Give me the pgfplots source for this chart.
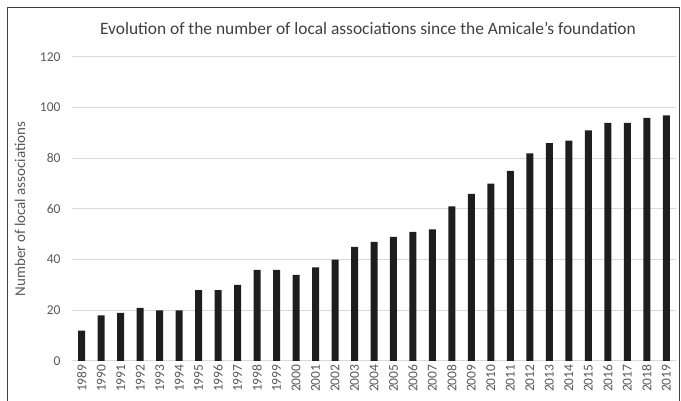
\documentclass[border=0pt]{standalone}
\usepackage{pgfplots}
\pgfplotsset{compat=1.18}
\usepackage{fontspec}
\setmainfont{Carlito}
\definecolor{gridgray}{RGB}{217,217,217}
\definecolor{textgray}{RGB}{89,89,89}
\definecolor{titlegray}{RGB}{64,64,64}
\definecolor{barblack}{RGB}{30,30,30}
\begin{document}
\begin{tikzpicture}[x=1pt,y=1pt]
\useasboundingbox (0,0) rectangle (681,401);
% chart frame (left, top, right)
\draw[line width=1pt, black!75] (7,-2) -- (7,393) -- (679,393) -- (679,-2);
\node[font=\fontsize{17.4}{20}\selectfont, text=titlegray] at (368,373)
  {Evolution of the number of local associations since the Amicale's foundation};
\node[font=\fontsize{15}{17}\selectfont, text=textgray, rotate=90] at (20,192)
  {Number of local associations};
\begin{axis}[
  at={(72pt,40pt)}, anchor=south west,
  scale only axis, width=604pt, height=304pt,
  xmin=1988.5, xmax=2019.5, ymin=0, ymax=120,
  ytick={0,20,...,120},
  xtick={1989,...,2019},
  xticklabels={1989,1990,1991,1992,1993,1994,1995,1996,1997,1998,1999,2000,2001,2002,2003,2004,2005,2006,2007,2008,2009,2010,2011,2012,2013,2014,2015,2016,2017,2018,2019},
  ymajorgrids, grid style={gridgray, line width=1pt},
  axis x line*=bottom, axis y line*=left,
  x axis line style={gridgray, line width=1pt, -},
  y axis line style={draw=none, -},
  major tick length=0pt,
  tick style={draw=none},
  /pgf/number format/assume math mode=true,
  ticklabel style={font=\fontsize{13.5}{15}\selectfont, text=textgray},
  xticklabel style={rotate=90, anchor=east, xshift=0pt, yshift=0pt},
  yticklabel style={anchor=east, xshift=-8pt},
  clip=false,
]
\addplot[ybar, bar width=7pt, fill=barblack, draw=none] coordinates {
(1989,12) (1990,18) (1991,19) (1992,21) (1993,20) (1994,20) (1995,28)
(1996,28) (1997,30) (1998,36) (1999,36) (2000,34) (2001,37) (2002,40)
(2003,45) (2004,47) (2005,49) (2006,51) (2007,52) (2008,61) (2009,66)
(2010,70) (2011,75) (2012,82) (2013,86) (2014,87) (2015,91) (2016,94)
(2017,94) (2018,96) (2019,97)};
\end{axis}
\end{tikzpicture}
\end{document}
